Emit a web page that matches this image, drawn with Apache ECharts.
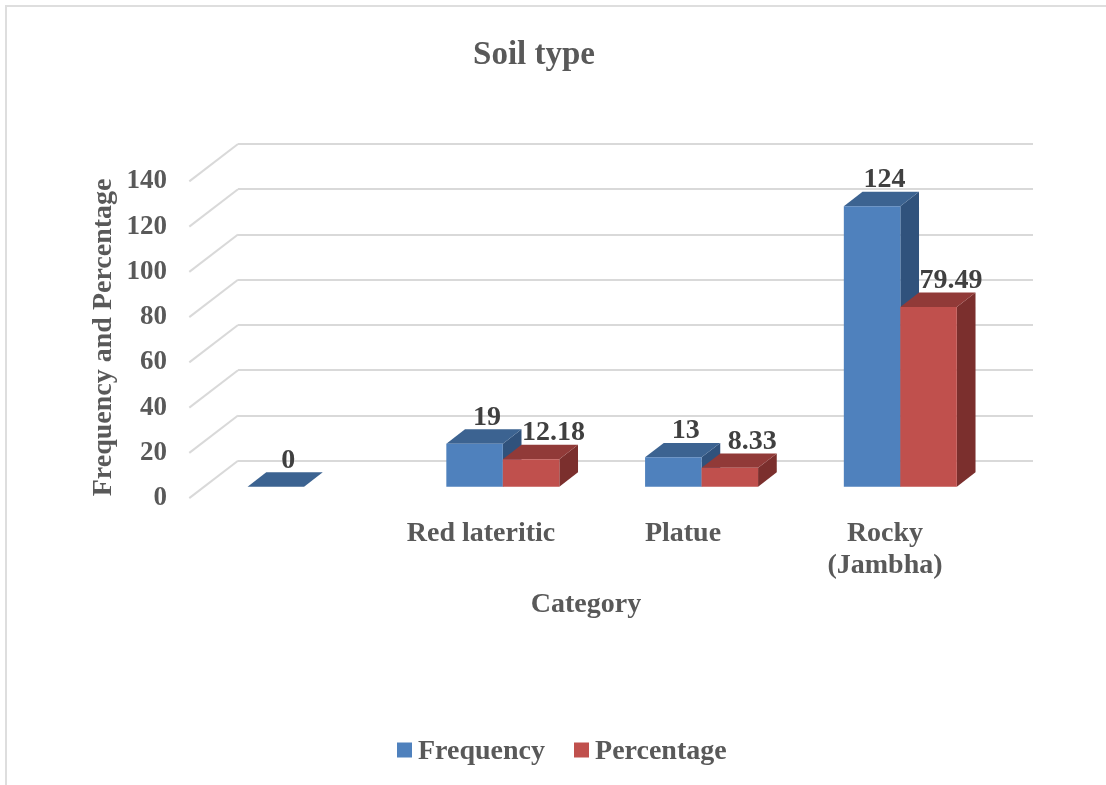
<!DOCTYPE html>
<html>
<head>
<meta charset="utf-8">
<style>html,body{margin:0;padding:0;background:#fff}#chart{width:1106px;height:785px}</style>
<script src="https://cdn.jsdelivr.net/npm/echarts@6/dist/echarts.min.js"></script>
</head>
<body>
<div id="chart"></div>
<script>
// Soil type survey: counts and shares per category
const categories = ['', 'Red lateritic', 'Platue', 'Rocky\n(Jambha)'];
const frequency = [0, 19, 13, 124];
const percentage = [null, 12.18, 8.33, 79.49];
const yTicks = [0, 20, 40, 60, 80, 100, 120, 140];

const FONT = '"Liberation Serif", "Times New Roman", serif';
const GREY = '#595959';
const LABEL = '#404040';
const GRID_LINE = '#d9d9d9';

// Oblique projection used for the pseudo-3D floor and bars
const WALL_DX = -48.7, WALL_DY = 37.4;     // back wall to front edge of side wall
const FRONT_DX = -33.3, FRONT_DY = 26;     // back wall to bar front faces
const DEPTH_DX = 18.7, DEPTH_DY = -14.4;   // bar front face to bar back face
const BAR_SHARE = 56.5 / 198.75;           // single bar width as a share of the band

function poly(points, fill) {
  return { type: 'polygon', shape: { points }, style: { fill } };
}

function barRenderer(slot, faces, labelDx) {
  return function (params, api) {
    const v = api.value(1);
    if (v == null || isNaN(v)) return;
    const i = api.value(0);
    const w = api.size([1, 0])[0] * BAR_SHARE;
    const top = api.coord([i, v]);
    const base = api.coord([i, 0]);
    const x0 = top[0] + FRONT_DX + slot * w;
    const x1 = x0 + w;
    const yT = top[1] + FRONT_DY;
    const yB = base[1] + FRONT_DY;
    const dx = DEPTH_DX, dy = DEPTH_DY;
    return {
      type: 'group',
      children: [
        poly([[x1, yT], [x1 + dx, yT + dy], [x1 + dx, yB + dy], [x1, yB]], faces.side),
        poly([[x0, yT], [x1, yT], [x1 + dx, yT + dy], [x0 + dx, yT + dy]], faces.top),
        poly([[x0, yT], [x1, yT], [x1, yB], [x0, yB]], faces.front),
        {
          type: 'text',
          z2: 10,
          style: {
            x: (x0 + x1 + dx) / 2 + labelDx,
            y: yT + dy - 12,
            text: String(v),
            font: 'bold 28px ' + FONT,
            fill: LABEL,
            align: 'center',
            verticalAlign: 'middle'
          }
        }
      ]
    };
  };
}

// Draws the receding part of each gridline on the left side wall
function wallRenderer(params, api) {
  const v = api.value(0);
  const p = api.coord([0, v]);
  const x = p[0] - api.size([1, 0])[0] / 2;
  return {
    type: 'line',
    shape: { x1: x, y1: p[1], x2: x + WALL_DX, y2: p[1] + WALL_DY },
    style: { stroke: GRID_LINE, lineWidth: 2 }
  };
}

const BLUE = { front: '#4f81bd', top: '#3c6391', side: '#30527c' };
const RED = { front: '#c0504d', top: '#913a38', side: '#7b2f2d' };

const chart = echarts.init(document.getElementById('chart'), null, { renderer: 'canvas' });
chart.setOption({
  backgroundColor: '#fff',
  animation: false,
  title: {
    text: 'Soil type',
    padding: 0,
    left: 534,
    top: 39,
    textAlign: 'center',
    textStyle: { fontFamily: FONT, fontSize: 33, fontWeight: 'bold', color: GREY }
  },
  legend: {
    left: 397,
    top: 738,
    padding: 0,
    itemWidth: 15,
    itemHeight: 15,
    itemGap: 29,
    icon: 'rect',
    data: ['Frequency', 'Percentage'],
    formatter: '{t|{name}}',
    textStyle: {
      rich: {
        t: { fontFamily: FONT, fontSize: 28, fontWeight: 'bold', color: GREY, padding: [4, 0, 0, 1] }
      }
    }
  },
  grid: [
    // back wall, holds the gridlines and the bars
    { left: 238, top: 144, width: 795, height: 316.7 },
    // front edge of the side wall and floor, holds the axis text
    { left: 178, top: 181.5, width: 808, height: 316.7 }
  ],
  xAxis: [
    { type: 'category', gridIndex: 0, data: categories, axisLine: { show: false }, axisTick: { show: false }, axisLabel: { show: false } },
    {
      type: 'category', gridIndex: 1, data: categories,
      axisLine: { show: false }, axisTick: { show: false },
      axisLabel: { margin: 20, interval: 0, fontFamily: FONT, fontSize: 28, fontWeight: 'bold', color: GREY, lineHeight: 32 },
      name: 'Category', nameLocation: 'middle', nameGap: 93,
      nameTextStyle: { fontFamily: FONT, fontSize: 28, fontWeight: 'bold', color: GREY, padding: [0, 0, 0, 8] }
    }
  ],
  yAxis: [
    {
      type: 'value', gridIndex: 0, min: 0, max: 140, interval: 20,
      axisLine: { show: false }, axisTick: { show: false }, axisLabel: { show: false },
      splitLine: { show: true, lineStyle: { color: GRID_LINE, width: 2 } }
    },
    {
      type: 'value', gridIndex: 1, min: 0, max: 140, interval: 20,
      axisLine: { show: false }, axisTick: { show: false }, splitLine: { show: false },
      axisLabel: { margin: 11, fontFamily: FONT, fontSize: 27, fontWeight: 'bold', color: GREY },
      name: 'Frequency and Percentage', nameLocation: 'middle', nameRotate: 90, nameGap: 60, nameMoveOverlap: false,
      nameTextStyle: { fontFamily: FONT, fontSize: 28, fontWeight: 'bold', color: GREY, padding: [0, 0, 0, 5] }
    }
  ],
  graphic: [
    // chart-area frame; its right and bottom edges fall outside the page
    { type: 'line', silent: true, shape: { x1: 5, y1: 6, x2: 1106, y2: 6 }, style: { stroke: '#dedede', lineWidth: 2 } },
    { type: 'line', silent: true, shape: { x1: 6, y1: 6, x2: 6, y2: 785 }, style: { stroke: '#dedede', lineWidth: 2 } }
  ],
  series: [
    {
      type: 'custom', name: 'wall', xAxisIndex: 0, yAxisIndex: 0, silent: true, clip: false,
      renderItem: wallRenderer,
      encode: { y: 0 },
      data: yTicks.map(v => [v])
    },
    {
      type: 'custom', name: 'Frequency', xAxisIndex: 0, yAxisIndex: 0, clip: false,
      itemStyle: { color: BLUE.front },
      renderItem: barRenderer(-1, BLUE, 3),
      encode: { x: 0, y: 1 },
      data: frequency.map((v, i) => [i, v])
    },
    {
      type: 'custom', name: 'Percentage', xAxisIndex: 0, yAxisIndex: 0, clip: false,
      itemStyle: { color: RED.front },
      renderItem: barRenderer(0, RED, 13),
      encode: { x: 0, y: 1 },
      data: percentage.map((v, i) => [i, v])
    }
  ]
});
</script>
</body>
</html>
